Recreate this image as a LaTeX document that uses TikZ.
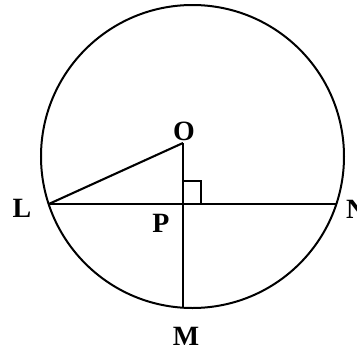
\documentclass[tikz,border=0pt]{standalone}
\usepackage{fontspec}
\setmainfont{Liberation Serif}
\begin{document}
\begin{tikzpicture}[x=1bp,y=-1bp,line width=2.1bp,
  lbl/.style={font=\fontsize{28}{28}\selectfont\bfseries,inner sep=0pt}]
  \useasboundingbox (0,0) rectangle (357,351);
  \coordinate (C) at (192.5,156.5);
  \draw[line width=2bp] (C) circle[radius=151.5];
  \coordinate (O) at (183,143);
  \coordinate (P) at (183,204);
  \coordinate (L) at (48.8,204);
  \coordinate (N) at (336.2,204);
  \coordinate (M) at (183,307.7);
  \draw (L)--(N);
  \draw (O)--(M);
  \draw (L)--(O);
  \draw[line width=1.7bp] (P) rectangle ++(18,-23);
  \node[lbl] (Olbl) at (184,131) {O};
  \node[lbl] (Llbl) at (22,208) {L};
  \node[lbl] (Plbl) at (161,223) {P};
  \node[lbl,anchor=west] (Nlbl) at (345,209) {N};
  \node[lbl] (Mlbl) at (186,336) {M};
\end{tikzpicture}
\end{document}
